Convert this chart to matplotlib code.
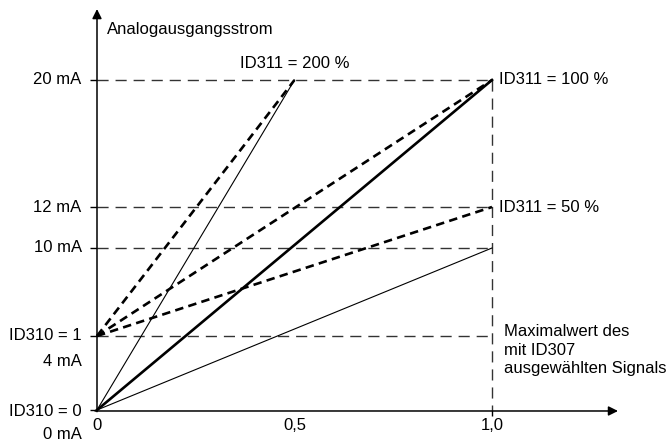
"""
Analogausgang: Skalierung ID310 / ID311
"""
import numpy as np
import matplotlib
matplotlib.use('Agg')
import matplotlib.pyplot as plt

plt.rcParams['font.family'] = ['Liberation Sans', 'DejaVu Sans']

# Data
x_start = [0.0, 0.0, 0.0]            # signal fraction at start
x_end = [0.5, 1.0, 1.0]              # ID311 = 200 %, 100 %, 50 %
y_from_zero = [20, 20, 10]           # ID310 = 0  -> output mA at x_end
y_from_four = [20, 20, 12]           # ID310 = 1  -> output mA at x_end
gain_labels = ['ID311 = 200 %', 'ID311 = 100 %', 'ID311 = 50 %']
gain_label_y = [20, 20, 12]

ma_levels = [4, 10, 12, 20]
ma_labels = ['4 mA', '10 mA', '12 mA', '20 mA']
x_ticks = [0, 0.5, 1.0]
x_ticklabels = ['0', '0,5', '1,0']

# schematic (non-linear) vertical spacing as drawn in the original
scale_ma = [0, 4, 10, 12, 20]
scale_pos = [0, 74, 162, 203, 330]


def fwd(v):
    return np.interp(v, scale_ma, scale_pos)


def inv(p):
    return np.interp(p, scale_pos, scale_ma)


fig = plt.figure(figsize=(6.68, 4.41), dpi=100)
ax = fig.add_axes([97 / 668, 31 / 441, 395 / 668, 330 / 441])
ax.set_yscale('function', functions=(fwd, inv))
ax.set_xlim(0, 1)
ax.set_ylim(0, 20)
for s in ax.spines.values():
    s.set_visible(False)

grid_col = '#333333'

# dashed helper lines
for lv in ma_levels:
    ax.plot([0, 1], [lv, lv], color=grid_col, lw=1.0, dashes=(8, 5),
            clip_on=False, zorder=1)
ax.plot([1, 1], [20, 0], color=grid_col, lw=1.0, dashes=(8, 5),
        clip_on=False, zorder=1)

# thin solid: ID310 = 0 with 200 % and 50 %
for i in (0, 2):
    ax.plot([x_start[i], x_end[i]], [0, y_from_zero[i]], color='black',
            lw=0.8, clip_on=False, zorder=2)
# thick solid: ID310 = 0, 100 %
ax.plot([x_start[1], x_end[1]], [0, y_from_zero[1]], color='black',
        lw=1.9, clip_on=False, zorder=3)
# thick dashed: ID310 = 1
for i in range(3):
    ax.plot([x_start[i], x_end[i]], [4, y_from_four[i]], color='black',
            lw=1.9, dashes=(3.2, 2.0), clip_on=False, zorder=3)

# axes with arrows
arrow = dict(arrowstyle='-|>', color='black', lw=1.1, mutation_scale=14,
             shrinkA=0, shrinkB=0)
ax.annotate('', xy=(0, 1.215), xytext=(0, -0.005), xycoords='axes fraction',
            textcoords='axes fraction', arrowprops=arrow)
ax.annotate('', xy=(1.319, -0.003), xytext=(-0.005, -0.003),
            xycoords='axes fraction', textcoords='axes fraction',
            arrowprops=arrow)

# ticks
ax.set_yticks([0] + ma_levels)
ax.set_yticklabels([])
ax.set_xticks([1.0])
ax.set_xticklabels([])
ax.tick_params(axis='y', direction='out', length=5, width=1.0, color='black')
ax.tick_params(axis='x', direction='out', length=4, width=1.0, color='black')

fs = 12

ax.text(0.0253, 1.1545, 'Analogausgangsstrom', transform=ax.transAxes,
        ha='left', va='center', fontsize=fs)

# y labels
for lv, lab in zip(ma_levels, ma_labels):
    if lv == 4:
        continue
    ax.annotate(lab, xy=(0, lv), xytext=(-11, 0), textcoords='offset points',
                ha='right', va='center', fontsize=fs)
ax.annotate('ID310 = 1', xy=(0, 4), xytext=(-11, 0), textcoords='offset points',
            ha='right', va='center', fontsize=fs)
ax.annotate('4 mA', xy=(0, 4), xytext=(-11, -18.7), textcoords='offset points',
            ha='right', va='center', fontsize=fs)
ax.annotate('ID310 = 0', xy=(0, 0), xytext=(-11, -1.2), textcoords='offset points',
            ha='right', va='center', fontsize=fs)
ax.annotate('0 mA', xy=(0, 0), xytext=(-11, -17.8), textcoords='offset points',
            ha='right', va='center', fontsize=fs)

# x labels
for xv, lab in zip(x_ticks, x_ticklabels):
    ax.annotate(lab, xy=(xv, 0), xytext=(0, -11.5), textcoords='offset points',
                ha='center', va='center', fontsize=fs)

# gain labels
ax.annotate(gain_labels[0], xy=(x_end[0], gain_label_y[0]), xytext=(0, 12.2),
            textcoords='offset points', ha='center', va='center', fontsize=fs)
for i in (1, 2):
    ax.annotate(gain_labels[i], xy=(x_end[i], gain_label_y[i]), xytext=(5, 0),
                textcoords='offset points', ha='left', va='center', fontsize=fs)

# note
note = ['Maximalwert des', 'mit ID307', 'ausgewählten Signals']
for k, line in enumerate(note):
    ax.annotate(line, xy=(1, 4), xytext=(8.6, 2.9 - 13.3 * k),
                textcoords='offset points', ha='left', va='center', fontsize=fs)

fig.savefig('out.png', dpi=100, facecolor='white')
